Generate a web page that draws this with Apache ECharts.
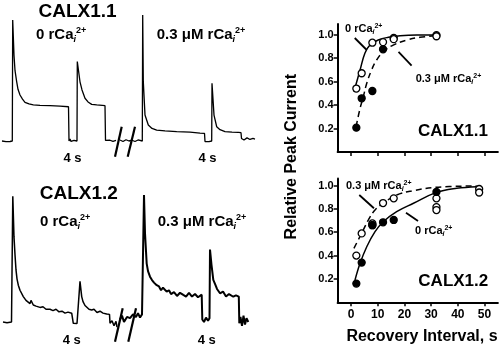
<!DOCTYPE html>
<html><head><meta charset="utf-8">
<script src="https://cdn.jsdelivr.net/npm/echarts@6/dist/echarts.min.js"></script>
<style>html,body{margin:0;padding:0;background:#fff}#c{width:500px;height:348px}</style>
</head><body><div id="c"></div>
<script>
// ---------- Current traces (x: sweep time, arbitrary units; y: normalized current) ----------
const traceCALX11_0Ca = [[2,0],[4,0.01],[6,-0.005],[8,0.005],[10,-0.004],[12.3,0],[12.7,0.96],[14,0.68],[15,0.56],[16.7,0.47],[18,0.41],[20,0.365],[22.5,0.333],[25,0.307],[29,0.294],[33.3,0.286],[40,0.282],[50,0.28],[60,0.276],[68.5,0.272],[69,0],[70,0.016],[71,-0.003],[74,0.005],[77,0],[77.3,0.63],[80,0.47],[82,0.405],[85,0.339],[88,0.31],[91.7,0.291],[96.7,0.286],[105,0.28],[105.5,0.005],[107,-0.004],[110,0.006],[113,-0.003],[116,0.005]];
const traceCALX11_03Ca = [[120,0.008],[123,-0.004],[126,0.01],[129,0],[132,0.006],[135,-0.004],[138,0.008],[142.3,0],[142.7,1.0],[143.3,0.471],[145,0.206],[148.3,0.127],[152,0.1],[156.7,0.087],[165,0.08],[176.7,0.074],[190,0.07],[200,0.063],[204.5,0.061],[205,-0.004],[207,0.01],[209,-0.005],[211.7,0],[212,0.458],[214,0.206],[216.7,0.113],[220,0.09],[225,0.074],[232,0.07],[238.3,0.069],[241,0.066],[241.5,0.02],[244,0.008],[247,0.025],[250,0.012],[253,0.02],[255,0.015]];
const traceCALX12_0Ca = [[3,0],[5,0.01],[7,-0.005],[9,0.008],[11.5,0],[12.3,0],[12.8,0.99],[14,0.67],[15,0.53],[16,0.41],[17,0.34],[18.3,0.29],[20,0.25],[23.3,0.2],[26,0.17],[28,0.175],[30,0.145],[31,0.17],[33.3,0.134],[36,0.125],[40,0.115],[43,0.12],[46,0.1],[50,0.1],[53,0.09],[56,0.1],[59,0.08],[62,0.085],[65,0.07],[68,0.078],[71.7,0.069],[73,0.07],[73.3,-0.01],[75,0.005],[77,-0.012],[79,0],[80,0.32],[81.7,0.2],[83,0.16],[85,0.13],[87,0.14],[89,0.1],[91.7,0.094],[94,0.1],[97,0.075],[100,0.085],[103,0.07],[106.7,0.063],[109.5,0.06],[110,-0.01],[112,0.01],[114,-0.03],[116,0.005],[117,-0.04]];
const traceCALX12_03Ca = [[120,0.02],[122,0.05],[124,0.0],[127,0.04],[130,0.03],[133,0.06],[136,0.04],[138,0.07],[140,0.035],[142,0.06],[143.5,0.05],[144,1.0],[145,0.7],[146.7,0.46],[148,0.4],[150,0.357],[152,0.33],[154,0.31],[156.7,0.29],[159,0.28],[161,0.25],[163,0.27],[166.7,0.239],[169,0.25],[171,0.22],[174,0.235],[177,0.205],[180,0.23],[183.3,0.213],[186,0.2],[189,0.23],[192,0.2],[195,0.22],[198,0.195],[201.7,0.215],[202.3,0.02],[204,0.0],[206,0.035],[208,0.01],[209.5,0.03],[210,0.57],[211.5,0.45],[213.3,0.331],[215,0.3],[217,0.26],[220,0.226],[223,0.24],[226,0.2],[229,0.22],[233.3,0.199],[236,0.21],[238.8,0.2],[239.3,-0.01],[240.5,0.04],[242,-0.03],[243.5,0.05],[245,-0.02],[246.5,0.03],[248.3,0.0]];
const breakMarksTop = [[[115,-0.125],[121.7,0.113]],[[127.7,-0.125],[135,0.113]]];
const breakMarksBottom = [[[115,-0.155],[122.7,0.108]],[[128.3,-0.155],[136,0.108]]];

// ---------- Recovery data (x: recovery interval s; y: relative peak current) ----------
const xTicks = [0,10,20,30,40,50];
const yTicks = [0.2,0.4,0.6,0.8,1.0];
const c11_0Ca_pts = [[2,0.54],[4,0.67],[8,0.93],[12,0.935],[16,0.97],[16,0.96],[32,0.995],[32,0.985]];
const c11_03Ca_pts = [[2,0.207],[4,0.457],[8,0.519],[12,0.874]];
const c11_0Ca_fit = [[1.1,0.513],[3.4,0.698],[5.2,0.84],[7.1,0.91],[10.2,0.953],[14,0.976],[18.4,0.99],[24.6,0.996],[31.8,0.996]];
const c11_03Ca_fit = [[1.9,0.215],[3.4,0.372],[4.6,0.47],[5.9,0.585],[7.7,0.698],[9.6,0.783],[12.1,0.854],[15.8,0.91],[20.9,0.953],[25.8,0.976],[31.8,0.99]];
const c12_03Ca_pts = [[2,0.40],[4,0.59],[8,0.675],[8,0.66],[12,0.85],[16,0.89],[32,0.89],[32,0.815],[32,0.79],[48,0.97],[48,0.94]];
const c12_0Ca_pts = [[2,0.16],[4,0.34],[8,0.66],[12,0.685],[16,0.705],[32,0.945]];
const c12_0Ca_fit = [[1.5,0.191],[3.4,0.334],[5.9,0.476],[9,0.605],[12.1,0.69],[17.1,0.776],[23.4,0.848],[31.8,0.939],[39.6,0.976],[47.1,0.99]];
const c12_03Ca_fit = [[1.1,0.462],[2.7,0.534],[4.6,0.619],[6.5,0.705],[9,0.79],[12.1,0.848],[17.1,0.919],[23.4,0.956],[31.8,0.985],[47.1,0.996]];
const arrowsTop = [[[1.4,0.97],[5.9,0.868]],[[17.8,0.851],[22.7,0.736]]];
const arrowsBottom = [[[3.1,0.919],[8.6,0.805]],[[20.6,0.767],[25.1,0.696]]];

const FF = '"Liberation Sans", Arial, sans-serif';
const chart = echarts.init(document.getElementById('c'), null, {renderer:'canvas'});

function line(data, xi, yi, opts) {
  return Object.assign({type:'line', xAxisIndex:xi, yAxisIndex:yi, data:data, symbol:'none',
    lineStyle:{color:'#000', width:1.3}, silent:true, animation:false, clip:false}, opts||{});
}
function traceAxes(idx, ymin, ymax) {
  return [{type:'value', gridIndex:idx, min:0, max:260, show:false},
          {type:'value', gridIndex:idx, min:ymin, max:ymax, show:false}];
}
function recXAxis(idx, showLabels) {
  return {type:'value', gridIndex:idx, min:-5, max:55,
    axisLine:{show:true, onZero:false, lineStyle:{color:'#000', width:2}},
    axisTick:{show:true, length:4, inside:false, customValues:xTicks, lineStyle:{color:'#000', width:1.5}},
    axisLabel:{show:showLabels, customValues:xTicks, margin:6, color:'#000', fontFamily:FF, fontWeight:'bold', fontSize:12},
    splitLine:{show:false}};
}
function recYAxis(idx, ymax) {
  return {type:'value', gridIndex:idx, min:0, max:ymax,
    axisLine:{show:true, onZero:false, lineStyle:{color:'#000', width:2}},
    axisTick:{show:true, length:4, inside:false, customValues:yTicks, lineStyle:{color:'#000', width:1.5}},
    axisLabel:{show:true, customValues:yTicks, margin:4, color:'#000', fontFamily:FF, fontWeight:'bold', fontSize:11,
      formatter:v=>v.toFixed(1)},
    splitLine:{show:false}};
}
function pts(data, xi, yi, filled) {
  return {type:'scatter', xAxisIndex:xi, yAxisIndex:yi, data:data, symbol:'circle', symbolSize:7, z:5,
    itemStyle:{color: filled ? '#000' : '#fff', borderColor:'#000', borderWidth:1.3, opacity:1}, silent:true, animation:false};
}
function rca(prefix, s) {
  return {text:'{b|' + prefix + 'rCa}{sub|i}{sup|2+}',
    rich:{b:{fontSize:s, fontWeight:'bold', fontFamily:FF, fill:'#000', lineHeight:s*1.2},
          sub:{fontSize:Math.round(s*0.62), fontStyle:'italic', fontWeight:'bold', fontFamily:FF, fill:'#000', verticalAlign:'bottom', lineHeight:s*1.2},
          sup:{fontSize:Math.round(s*0.62), fontWeight:'bold', fontFamily:FF, fill:'#000', verticalAlign:'top', lineHeight:s*1.2}}};
}
function txt(x, y, t, size, align, rot) {
  const st = (typeof t === 'string') ? {text:t, rich:null} : t;
  const e = {type:'text', x:x, y:y, z:20, silent:true,
    style:{text:st.text, rich:st.rich||undefined, font:'bold '+size+'px '+FF, fill:'#000', align:align||'left', verticalAlign:'middle'}};
  if (rot) e.rotation = rot;
  return e;
}

const xAxes = [], yAxes = [];
let t0 = traceAxes(0, -0.15, 1.05); xAxes.push(t0[0]); yAxes.push(t0[1]);
let t1 = traceAxes(1, -0.17, 1.05); xAxes.push(t1[0]); yAxes.push(t1[1]);
xAxes.push(recXAxis(2, false)); yAxes.push(recYAxis(2, 1.09));
xAxes.push(recXAxis(3, true)); yAxes.push(recYAxis(3, 1.06));

const series = [
  line(traceCALX11_0Ca, 0, 0), line(traceCALX11_03Ca, 0, 0),
  line(traceCALX12_0Ca, 1, 1, {lineStyle:{color:'#000', width:1.5}}),
  line(traceCALX12_03Ca, 1, 1, {lineStyle:{color:'#000', width:2}}),
  ...breakMarksTop.map(d => line(d, 0, 0, {lineStyle:{color:'#000', width:2.2}})),
  ...breakMarksBottom.map(d => line(d, 1, 1, {lineStyle:{color:'#000', width:2.2}})),
  line(c11_0Ca_fit, 2, 2, {smooth:0.4, lineStyle:{color:'#000', width:1.5}}),
  line(c11_03Ca_fit, 2, 2, {smooth:0.4, lineStyle:{color:'#000', width:1.5, type:[6,4]}}),
  line(c12_0Ca_fit, 3, 3, {smooth:0.4, lineStyle:{color:'#000', width:1.5}}),
  line(c12_03Ca_fit, 3, 3, {smooth:0.4, lineStyle:{color:'#000', width:1.5, type:[6,4]}}),
  ...arrowsTop.map(d => line(d, 2, 2, {lineStyle:{color:'#000', width:1.8}})),
  ...arrowsBottom.map(d => line(d, 3, 3, {lineStyle:{color:'#000', width:1.8}})),
  pts(c11_0Ca_pts, 2, 2, false), pts(c11_03Ca_pts, 2, 2, true),
  pts(c12_03Ca_pts, 3, 3, false), pts(c12_0Ca_pts, 3, 3, true)
];

const graphics = [
  txt(77.5, 12, 'CALX1.1', 19, 'center'),
  txt(36, 35, rca('0 ', 15), 15),
  txt(156.7, 35, rca('0.3 \u03bcM ', 15), 15),
  txt(72.5, 158.3, '4 s', 13, 'center'),
  txt(207.5, 158.3, '4 s', 13, 'center'),
  txt(78.8, 193.3, 'CALX1.2', 19, 'center'),
  txt(40, 221.7, rca('0 ', 15), 15),
  txt(157.7, 221.7, rca('0.3 \u03bcM ', 15), 15),
  txt(71.7, 340, '4 s', 13, 'center'),
  txt(206.7, 340, '4 s', 13, 'center'),
  txt(345, 29, rca('0 ', 11), 11),
  txt(415.7, 79.3, rca('0.3 \u03bcM ', 11), 11),
  txt(453, 131.7, 'CALX1.1', 17, 'center'),
  txt(346, 185.7, rca('0.3 \u03bcM ', 11), 11),
  txt(415, 231, rca('0 ', 11), 11),
  txt(453.3, 281, 'CALX1.2', 17, 'center'),
  txt(291.7, 156.7, 'Relative Peak Current', 16, 'center', Math.PI/2),
  txt(422, 336.7, 'Recovery Interval, s', 16, 'center')
];

chart.setOption({
  animation:false,
  backgroundColor:'#fff',
  grid:[
    {left:0, top:8.7, width:260, height:151.2},
    {left:0, top:188.65, width:260, height:154.94},
    {left:337.65, top:23.9, width:160.2, height:128.1},
    {left:337.65, top:178.5, width:160.2, height:123.8}
  ],
  xAxis:xAxes, yAxis:yAxes, series:series, graphic:graphics
});
</script></body></html>
